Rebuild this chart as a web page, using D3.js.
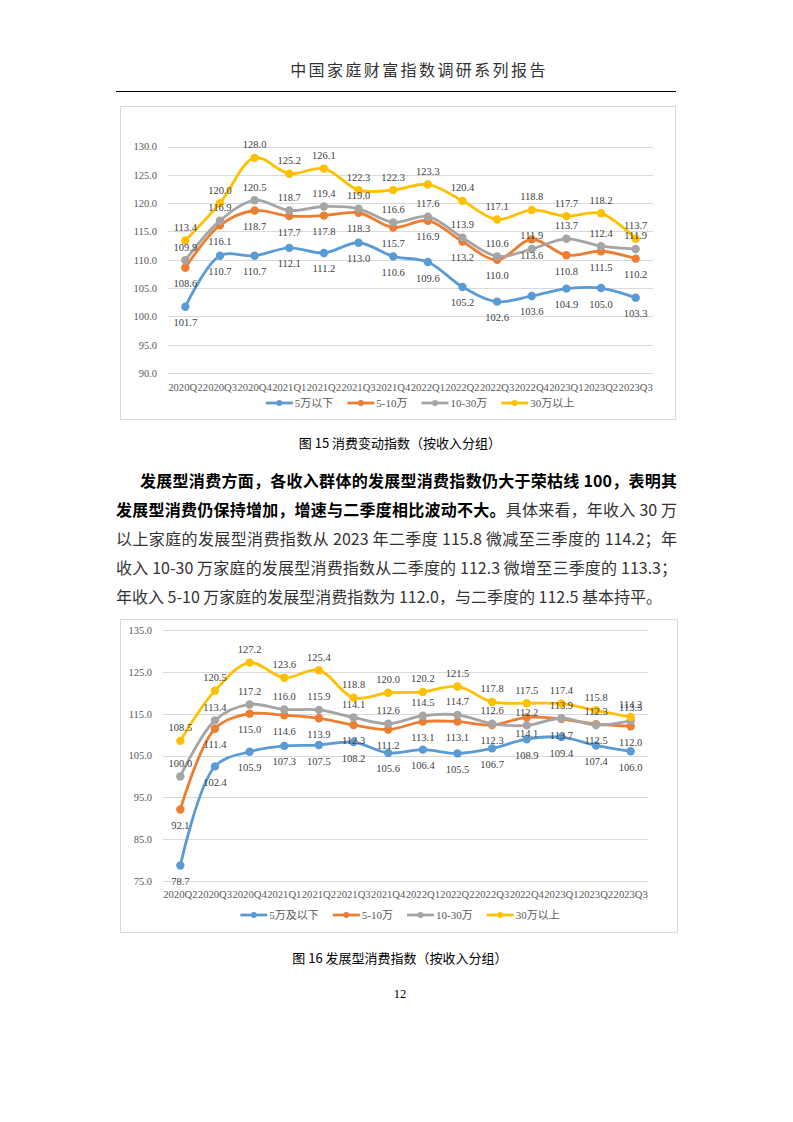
<!DOCTYPE html>
<html lang="zh">
<head>
<meta charset="UTF-8">
<title>消费指数</title>
<style>
  body { margin: 0; background: #fff; }
  #page { position: relative; width: 793px; height: 1122px; overflow: hidden; }
  svg { position: absolute; left: 0; top: 0; }
  .para { position: absolute; left: 116px; width: 561px; font-family: "Noto Sans CJK SC", sans-serif;
          font-size: 16px; line-height: 29px; color: #333; }
  .line { height: 29px; white-space: nowrap; text-align: justify; text-align-last: justify; }
  .line.last { text-align-last: left; }
  b { color: #000; font-weight: bold; }
</style>
</head>
<body>
<div id="page">
  <svg id="chart" width="793" height="1122"></svg>
  <div class="para" style="top:466px">
    <div class="line" style="padding-left:24px"><b>发展型消费方面，各收入群体的发展型消费指数仍大于荣枯线 100，表明其</b></div>
    <div class="line"><b>发展型消费仍保持增加，增速与二季度相比波动不大。</b>具体来看，年收入 30 万</div>
    <div class="line">以上家庭的发展型消费指数从 2023 年二季度 115.8 微减至三季度的 114.2；年</div>
    <div class="line">收入 10-30 万家庭的发展型消费指数从二季度的 112.3 微增至三季度的 113.3；</div>
    <div class="line last">年收入 5-10 万家庭的发展型消费指数为 112.0，与二季度的 112.5 基本持平。</div>
  </div>
</div>
<script src="https://d3js.org/d3.v7.min.js"></script>
<script>
// categories
var quarters = ['2020Q2', '2020Q3', '2020Q4', '2021Q1', '2021Q2', '2021Q3', '2021Q4',
                '2022Q1', '2022Q2', '2022Q3', '2022Q4', '2023Q1', '2023Q2', '2023Q3'];

// 图15 消费变动指数
var names15 = ['5万以下', '5-10万', '10-30万', '30万以上'];
var c15_low  = [101.7, 110.7, 110.7, 112.1, 111.2, 113.0, 110.6, 109.6, 105.2, 102.6, 103.6, 104.9, 105.0, 103.3];
var c15_mid  = [108.6, 116.1, 118.7, 117.7, 117.8, 118.3, 115.7, 116.9, 113.2, 110.0, 113.6, 110.8, 111.5, 110.2];
var c15_high = [109.9, 116.9, 120.5, 118.7, 119.4, 119.0, 116.6, 117.6, 113.9, 110.6, 111.9, 113.7, 112.4, 111.9];
var c15_top  = [113.4, 120.0, 128.0, 125.2, 126.1, 122.3, 122.3, 123.3, 120.4, 117.1, 118.8, 117.7, 118.2, 113.7];
var ticks15 = [90, 95, 100, 105, 110, 115, 120, 125, 130];

// 图16 发展型消费指数
var names16 = ['5万及以下', '5-10万', '10-30万', '30万以上'];
var c16_low  = [78.7, 102.4, 105.9, 107.3, 107.5, 108.2, 105.6, 106.4, 105.5, 106.7, 108.9, 109.4, 107.4, 106.0];
var c16_mid  = [92.1, 111.4, 115.0, 114.6, 113.9, 112.3, 111.2, 113.1, 113.1, 112.3, 114.1, 113.7, 112.5, 112.0];
var c16_high = [100.0, 113.4, 117.2, 116.0, 115.9, 114.1, 112.6, 114.5, 114.7, 112.6, 112.2, 113.9, 112.3, 113.3];
var c16_top  = [108.5, 120.5, 127.2, 123.6, 125.4, 118.8, 120.0, 120.2, 121.5, 117.8, 117.5, 117.4, 115.8, 114.2];
var ticks16 = [75, 85, 95, 105, 115, 125, 135];

var colors = ['#5B9BD5', '#ED7D31', '#A5A5A5', '#FFC000'];
var labelSide = ['below', 'below', 'above', 'above'];
var numFont = '"Liberation Serif", "Times New Roman", serif';
var cjkFont = '"Liberation Serif", "Noto Sans CJK SC", serif';

var svg = d3.select('#chart');

// header
svg.append('text').attr('x', 419).attr('y', 76).attr('text-anchor', 'middle')
  .attr('font-family', '"Noto Sans CJK SC", sans-serif').attr('font-size', 16)
  .attr('letter-spacing', 2.4).attr('fill', '#333').text('中国家庭财富指数调研系列报告');
svg.append('line').attr('x1', 116).attr('x2', 676).attr('y1', 91.5).attr('y2', 91.5)
  .attr('stroke', '#000').attr('stroke-width', 1.2);

function drawChart(cfg) {
  var g = svg.append('g');
  g.append('rect').attr('x', cfg.box[0] + 0.5).attr('y', cfg.box[1] + 0.5)
    .attr('width', cfg.box[2]).attr('height', cfg.box[3])
    .attr('fill', '#fff').attr('stroke', '#d9d9d9');

  var x = d3.scaleBand().domain(quarters).range(cfg.xr);
  var y = d3.scaleLinear().domain(cfg.domain).range(cfg.yr);

  // grid
  g.selectAll('.grid').data(cfg.ticks).enter().append('line')
    .attr('x1', cfg.xr[0]).attr('x2', cfg.xr[1])
    .attr('y1', d => Math.round(y(d)) + 0.5).attr('y2', d => Math.round(y(d)) + 0.5)
    .attr('stroke', '#d9d9d9').attr('stroke-width', 1);

  // y axis labels
  var yAxis = d3.axisLeft(y).tickValues(cfg.ticks).tickFormat(d3.format('.1f')).tickSize(0).tickPadding(0);
  var ya = g.append('g').attr('transform', 'translate(' + cfg.yLabelX + ',0)').call(yAxis);
  ya.select('.domain').remove();
  ya.selectAll('text').attr('font-family', numFont).attr('font-size', 10.5).attr('fill', '#595959');

  // x axis labels
  var xAxis = d3.axisBottom(x).tickSize(0).tickPadding(0);
  var xa = g.append('g').attr('transform', 'translate(0,' + cfg.xLabelY + ')').call(xAxis);
  xa.select('.domain').remove();
  xa.selectAll('text').attr('font-family', numFont).attr('font-size', 10.5).attr('fill', '#595959')
    .attr('dy', 0).attr('textLength', x.bandwidth() - 0.4).attr('lengthAdjust', 'spacingAndGlyphs');

  var cx = d => x(d) + x.bandwidth() / 2;
  var line = d3.line().x((d, i) => cx(quarters[i])).y(d => y(d)).curve(d3.curveCatmullRom.alpha(0.5));

  cfg.series.forEach(function (vals, k) {
    var s = g.append('g');
    s.append('path').datum(vals).attr('d', line).attr('fill', 'none')
      .attr('stroke', colors[k]).attr('stroke-width', 2.8).attr('stroke-linecap', 'round');
    s.selectAll('circle').data(vals).enter().append('circle')
      .attr('cx', (d, i) => cx(quarters[i])).attr('cy', d => y(d)).attr('r', 4.2)
      .attr('fill', colors[k]);
  });
  // labels on top
  cfg.series.forEach(function (vals, k) {
    g.append('g').selectAll('text').data(vals).enter().append('text')
      .attr('x', (d, i) => cx(quarters[i]))
      .attr('y', d => y(d) + (labelSide[k] === 'above' ? -9.5 : 19.5))
      .attr('text-anchor', 'middle').attr('font-family', numFont).attr('font-size', 10.5)
      .attr('fill', '#404040').text(d => d3.format('.1f')(d));
  });

  // legend
  var leg = g.append('g');
  var items = leg.selectAll('g').data(cfg.names).enter().append('g');
  items.append('line').attr('x1', 0).attr('x2', 27).attr('y1', 0).attr('y2', 0)
    .attr('stroke', (d, i) => colors[i]).attr('stroke-width', 2.8);
  items.append('circle').attr('cx', 13.5).attr('cy', 0).attr('r', 3).attr('fill', (d, i) => colors[i]);
  items.append('text').attr('x', 29).attr('y', 4).attr('font-family', cjkFont).attr('font-size', 11)
    .attr('fill', '#595959').text(d => d);
  var pos = 0, offs = [];
  items.each(function () {
    offs.push(pos);
    pos += 29 + this.querySelector('text').getComputedTextLength() + 14;
  });
  pos -= 14;
  items.attr('transform', (d, i) => 'translate(' + (cfg.legendCx - pos / 2 + offs[i]) + ',' + cfg.legendY + ')');

  svg.append('text').attr('x', 400).attr('y', cfg.captionY).attr('text-anchor', 'middle')
    .attr('font-family', '"Noto Sans CJK SC", sans-serif').attr('font-size', 13).attr('fill', '#000')
    .text(cfg.caption);
}

drawChart({
  box: [120, 106, 555, 313],
  xr: [168, 653], yr: [373, 146.5], domain: [90, 130], ticks: ticks15,
  yLabelX: 157, xLabelY: 391,
  series: [c15_low, c15_mid, c15_high, c15_top], names: names15,
  legendCx: 420, legendY: 403,
  captionY: 448, caption: '图 15 消费变动指数（按收入分组）'
});

drawChart({
  box: [120, 619, 557, 313],
  xr: [163, 648], yr: [881, 630], domain: [75, 135], ticks: ticks16,
  yLabelX: 152, xLabelY: 898,
  series: [c16_low, c16_mid, c16_high, c16_top], names: names16,
  legendCx: 400, legendY: 915,
  captionY: 963, caption: '图 16 发展型消费指数（按收入分组）'
});

svg.append('text').attr('x', 400).attr('y', 998).attr('text-anchor', 'middle')
  .attr('font-family', numFont).attr('font-size', 12.5).attr('fill', '#000').text('12');
</script>
</body>
</html>
